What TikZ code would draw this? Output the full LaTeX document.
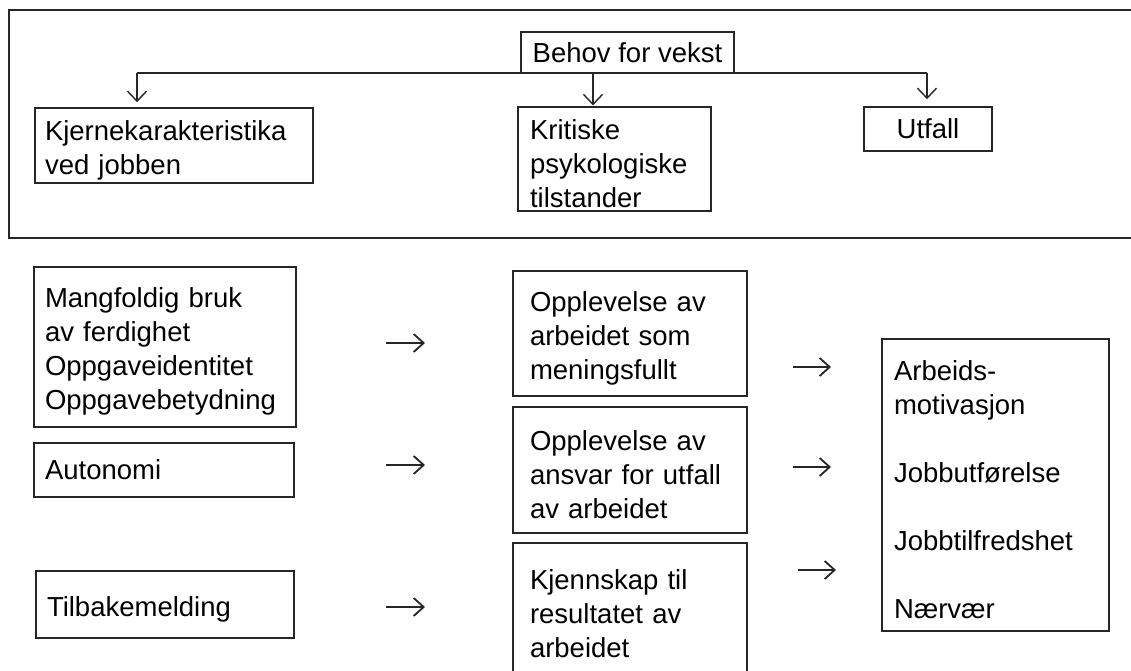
\documentclass[tikz,border=0pt]{standalone}
\usepackage{fontspec}
\setmainfont{Liberation Sans}
\usetikzlibrary{arrows.meta}
% invisible strut that lowers the first line of a box slightly
\newcommand{\toppad}{\rule{0pt}{29pt}}
\begin{document}
\begin{tikzpicture}[x=1pt,y=-1pt,
  every node/.style={font=\fontsize{27.5}{34}\selectfont, text=black},
  box/.style={draw=black!85, line width=1.6pt, inner ysep=0pt, align=left},
  conn/.style={draw=black!85, line width=1.4pt},
  tip/.style={-{Straight Barb[length=10pt,width=19pt,line width=1.4pt]}},
  glyph/.style={draw=black!85, line width=1.8pt, -{Straight Barb[length=10pt,width=18pt,line width=1.8pt]}}]
\useasboundingbox (0,0) rectangle (1131,671);

% frame around the heading model
\draw[line width=1.6pt, black!85] (1131,10) -- (9,10) -- (9,238) -- (1131,238);

% heading row
\node[box, minimum width=213pt, minimum height=41pt, inner xsep=0pt] (behov) at (627.5,52.5) {Behov for vekst};
\node[box, text width=258pt, inner xsep=10pt, minimum height=75pt] (kj) at (174,145.5) {\toppad Kjernekarakteristika\\ved jobben};
\node[box, text width=169pt, inner xsep=12pt, minimum height=104pt] (kr) at (614.5,159) {\toppad Kritiske\\psykologiske\\tilstander};
\node[box, minimum width=128pt, minimum height=44pt, inner xsep=0pt] (ut) at (928,129) {Utfall};

\coordinate (hl) at (137,73);
\coordinate (hm) at (593,73);
\coordinate (hr) at (927,73);
\draw[conn] (hl) -- (hr);
\draw[conn, tip, shorten >=5pt] (hl) -- (hl |- kj.north);
\draw[conn, tip, shorten >=0.8pt] (hm) -- (hm |- kr.north);
\draw[conn, tip, shorten >=7pt] (hr) -- (hr |- ut.north);

% job characteristics
\node[box, text width=240pt, inner xsep=11pt, minimum height=160pt] (mf) at (165,347) {\toppad Mangfoldig bruk\\av ferdighet\\Oppgaveidentitet\\Oppgavebetydning};
\node[box, text width=238pt, inner xsep=11pt, minimum height=54pt] (au) at (164,470) {Autonomi};
\node[box, text width=236pt, inner xsep=11pt, minimum height=67pt] (tb) at (165,604.5) {\toppad Tilbakemelding};

% psychological states
\node[box, text width=200pt, inner xsep=17pt, minimum height=125pt] (m1) at (630,333.5) {\toppad Opplevelse av\\arbeidet som\\meningsfullt};
\node[box, text width=200pt, inner xsep=17pt, minimum height=126pt] (m2) at (630,470) {\toppad Opplevelse av\\ansvar for utfall\\av arbeidet};
\node[box, text width=200pt, inner xsep=17pt, minimum height=132pt] (m3) at (630,609) {\toppad Kjennskap til\\resultatet av\\arbeidet};

% outcomes
\node[box, text width=203pt, inner xsep=12pt, minimum height=292pt] (out) at (995.5,485) {\toppad Arbeids-\\motivasjon\\[34pt]Jobbutførelse\\[34pt]Jobbtilfredshet\\[34pt]Nærvær};

% arrows between the columns
\coordinate (a1s) at (386,343); \coordinate (a1e) at (425,343);
\coordinate (a2s) at (386,465); \coordinate (a2e) at (425,465);
\coordinate (a3s) at (386,607); \coordinate (a3e) at (425,607);
\coordinate (b1s) at (793,367); \coordinate (b1e) at (831,367);
\coordinate (b2s) at (793,467); \coordinate (b2e) at (831,467);
\coordinate (b3s) at (798,570); \coordinate (b3e) at (836,570);
\foreach \p in {a1,a2,a3,b1,b2,b3}
  \draw[glyph] (\p s) -- (\p e);
\end{tikzpicture}
\end{document}
